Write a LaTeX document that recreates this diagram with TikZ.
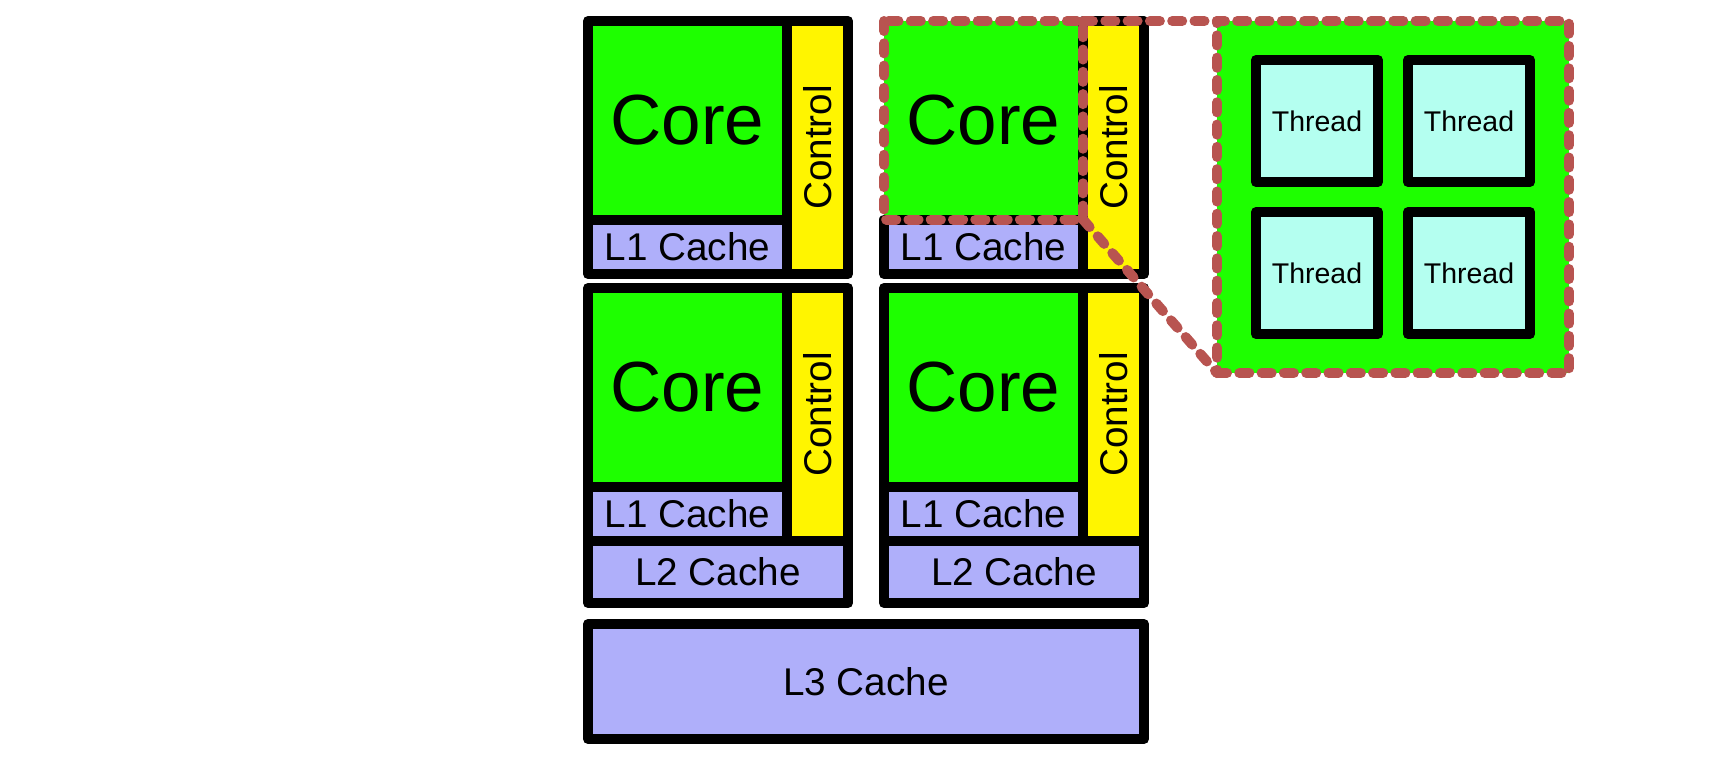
\documentclass[tikz,border=0pt]{standalone}
\usepackage{fontspec}
\setmainfont{Liberation Sans}
\usepackage{graphicx}
\usepackage{xcolor}
\usepackage{tikz}

\definecolor{coregreen}{RGB}{30,255,0}
\definecolor{ctlyellow}{RGB}{255,245,0}
\definecolor{cacheblue}{RGB}{175,175,250}
\definecolor{threadcyan}{RGB}{180,255,240}
\definecolor{zoomred}{RGB}{184,84,80}

\tikzset{
    part/.style={
        draw=black,
        line width=1mm,
        line join=round,
        inner sep=0pt,
        outer sep=0pt,
        anchor=north west
    },
    corebox/.style={
        part, fill=coregreen,
        minimum width=19.9mm, minimum height=19.85mm,
        font=\fontsize{20.2pt}{24pt}\selectfont
    },
    l1box/.style={
        part, fill=cacheblue,
        minimum width=19.9mm, minimum height=5.45mm,
        font=\fontsize{11pt}{13pt}\selectfont
    },
    ctlbox/.style={
        part, fill=ctlyellow,
        minimum width=6.1mm, minimum height=25.3mm,
        font=\fontsize{11pt}{13pt}\selectfont
    },
    l2box/.style={
        part, fill=cacheblue,
        minimum width=26mm, minimum height=6.2mm,
        font=\fontsize{11pt}{13pt}\selectfont
    },
    l3box/.style={
        part, fill=cacheblue,
        minimum width=55.6mm, minimum height=11.5mm,
        font=\fontsize{11pt}{13pt}\selectfont
    },
    threadbox/.style={
        part, fill=threadcyan,
        minimum width=12.2mm, minimum height=12.2mm,
        font=\fontsize{8.1pt}{10pt}\selectfont
    },
    zoomline/.style={
        draw=zoomred,
        line width=1mm,
        line cap=round,
        line join=round,
        dash pattern=on 1mm off 1.23mm
    },
    zoombox/.style={
        part, fill=coregreen, zoomline,
        minimum width=35.2mm, minimum height=35.2mm
    }
}

\begin{document}
\begin{tikzpicture}[x=0.1mm, y=-0.1mm]
        \useasboundingbox (0,0) rectangle (1736,760);

        % draw first row of cores
        \node[corebox] (corea) at (588,21) {Core};
        \node[corebox, draw=none] (coreb) at (884,21) {Core};
        \foreach \c/\x in {a/588, b/884}
        {
            \node[l1box] (l1\c) at (\x,219.5) {L1 Cache};
            \node[ctlbox] (ctl\c) at (\x+199,21) {\rotatebox{90}{Control}};
        }

        % draw second row of cores
        \foreach \c/\x in {c/588, d/884}
        {
            \node[corebox] (core\c) at (\x,288) {Core};
            \node[l1box] (l1\c) at (\x,486.5) {L1 Cache};
            \node[ctlbox] (ctl\c) at (\x+199,288) {\rotatebox{90}{Control}};
            \node[l2box] (l2\c) at (\x,541) {L2 Cache};
        }

        % draw shared cache
        \node[l3box] (l3) at (588,624) {L3 Cache};

        % draw zoomed core with threads
        \node[zoombox] (zoom) at (1217,21) {};
        \foreach \t/\x/\y in {1/1256/60, 2/1408/60, 3/1256/212, 4/1408/212}
        {
            \node[threadbox] (thread\t) at (\x,\y) {Thread};
        }

        % draw dashed outline and zoom lines
        \draw[zoomline] (coreb.north west) rectangle (coreb.south east);
        \draw[zoomline] (coreb.north east) -- (zoom.north west);
        \draw[zoomline] (coreb.south east) -- (zoom.south west);
    \end{tikzpicture}
\end{document}
